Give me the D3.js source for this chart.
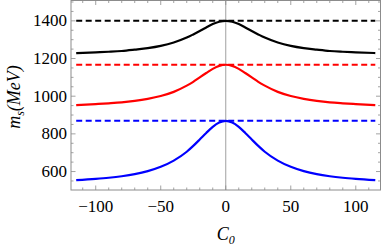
<!DOCTYPE html>
<html>
<head>
<meta charset="utf-8">
<script src="https://cdn.jsdelivr.net/npm/d3@7"></script>
<style>
    body { margin: 0; background: #fff; }
    svg { display: block; }
</style>
</head>
<body>
<script>
// values
const c0 = [-115, -100, -90, -80, -70, -60, -50, -40, -30, -25, -20, -15, -10, -5, 0,
    5, 10, 15, 20, 25, 30, 40, 50, 60, 70, 80, 90, 100, 115];
const msBlack = [1229, 1233, 1236, 1240, 1247, 1255, 1267, 1285, 1311, 1328, 1346, 1365, 1383, 1395, 1400,
    1395, 1383, 1365, 1346, 1328, 1311, 1285, 1267, 1255, 1247, 1240, 1236, 1233, 1229];
const msRed = [953, 958, 962, 967, 975, 986, 1001, 1023, 1056, 1076, 1100, 1123, 1145, 1161, 1167,
    1161, 1145, 1123, 1100, 1076, 1056, 1023, 1001, 986, 975, 967, 962, 958, 953];
const msBlue = [554, 561, 567, 575, 586, 602, 625, 658, 705, 736, 770, 805, 837, 860, 869,
    860, 837, 805, 770, 736, 705, 658, 625, 602, 586, 575, 567, 561, 554];
const limits = [1400, 1167, 869];
const colors = ["#000000", "#ff0000", "#0000ff"];
const xTicks = [-100, -50, 0, 50, 100];
const yTicks = [600, 800, 1000, 1200, 1400];

const w = 382;
const h = 246;
const mLeft = 71;
const mRight = 380.5;
const mTop = 0.5;
const mBottom = 190;
const serif = "'Liberation Serif', 'Times New Roman', 'DejaVu Serif', serif";

const x = d3.scaleLinear().domain([-119, 119]).range([mLeft, mRight]);
const y = d3.scaleLinear().domain([502, 1508]).range([mBottom, mTop]);

const svg = d3.select("body").append("svg")
    .attr("width", w)
    .attr("height", h)
    .attr("font-family", serif);

const frameColor = "#8c8c8c";

// zero line
svg.append("line")
    .attr("x1", x(0)).attr("x2", x(0))
    .attr("y1", mTop).attr("y2", mBottom)
    .attr("stroke", "#a0a0a0")
    .attr("stroke-width", 1);

// frame with inward ticks on all sides
const xMinor = d3.range(-110, 111, 10);
const yMinor = d3.range(550, 1501, 50);

const ticks = svg.append("g").attr("stroke", frameColor).attr("stroke-width", 0.8);
xMinor.forEach((t) => {
    const len = t % 50 === 0 ? 4.5 : 2.5;
    ticks.append("line").attr("x1", x(t)).attr("x2", x(t)).attr("y1", mBottom).attr("y2", mBottom - len);
    ticks.append("line").attr("x1", x(t)).attr("x2", x(t)).attr("y1", mTop).attr("y2", mTop + len);
});
yMinor.forEach((t) => {
    const len = t % 200 === 0 ? 4.5 : 2.5;
    ticks.append("line").attr("x1", mLeft).attr("x2", mLeft + len).attr("y1", y(t)).attr("y2", y(t));
    ticks.append("line").attr("x1", mRight).attr("x2", mRight - len).attr("y1", y(t)).attr("y2", y(t));
});

svg.append("rect")
    .attr("x", mLeft).attr("y", mTop)
    .attr("width", mRight - mLeft).attr("height", mBottom - mTop)
    .attr("fill", "none")
    .attr("stroke", frameColor)
    .attr("stroke-width", 1);

// dashed limits
limits.forEach((v, i) => {
    svg.append("line")
        .attr("x1", x(-115)).attr("x2", x(115))
        .attr("y1", y(v)).attr("y2", y(v))
        .attr("stroke", colors[i])
        .attr("stroke-width", 2)
        .attr("stroke-dasharray", "6,3.5");
});

// curves
const line = d3.line()
    .x((d) => x(d[0]))
    .y((d) => y(d[1]))
    .curve(d3.curveMonotoneX);

[msBlack, msRed, msBlue].forEach((s, i) => {
    svg.append("path")
        .datum(c0.map((c, j) => [c, s[j]]))
        .attr("d", line)
        .attr("fill", "none")
        .attr("stroke", colors[i])
        .attr("stroke-width", 2.2);
});

// tick labels
svg.append("g")
    .selectAll("text")
    .data(xTicks)
    .enter()
    .append("text")
    .attr("x", (d) => x(d))
    .attr("y", 212)
    .attr("text-anchor", "middle")
    .attr("font-size", 17)
    .text((d) => (d < 0 ? "\u2212" + Math.abs(d) : d));

svg.append("g")
    .selectAll("text")
    .data(yTicks)
    .enter()
    .append("text")
    .attr("x", 67)
    .attr("y", (d) => y(d))
    .attr("dy", "0.33em")
    .attr("text-anchor", "end")
    .attr("font-size", 17)
    .text((d) => d);

// axis titles
svg.append("text")
    .attr("x", x(0))
    .attr("y", 240)
    .attr("text-anchor", "middle")
    .attr("font-size", 18)
    .attr("font-style", "italic")
    .html('C<tspan font-size="12" dy="4">0</tspan>');

svg.append("text")
    .attr("transform", "translate(20, 97) rotate(-90)")
    .attr("text-anchor", "middle")
    .attr("font-size", 18)
    .attr("font-style", "italic")
    .html('m<tspan font-size="12" dy="4">s</tspan><tspan dy="-4">(MeV)</tspan>');
</script>
</body>
</html>
